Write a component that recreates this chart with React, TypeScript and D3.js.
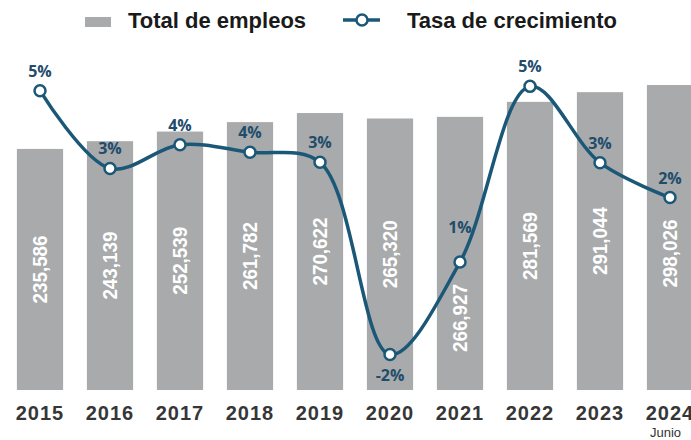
import React from "react";
import * as d3 from "d3";

// data
const years = ["2015", "2016", "2017", "2018", "2019", "2020", "2021", "2022", "2023", "2024"];
const totalEmpleos = [235586, 243139, 252539, 261782, 270622, 265320, 266927, 281569, 291044, 298026];
const tasaCrecimiento = [5.37, 3.21, 3.87, 3.66, 3.38, -1.96, 0.61, 5.49, 3.37, 2.4];
const legendLabels = ["Total de empleos", "Tasa de crecimiento"];
const lastYearNote = "Junio";

const W = 691;
const H = 440;
const barColor = "#a8aaab";
const lineColor = "#1b5877";
const pctColor = "#1f4d6b";

export default function App() {
    const x = d3.scaleBand<string>().domain(years).range([5, 705]).paddingInner(0.34).paddingOuter(0.17);
    const yBar = d3.scaleLinear().domain([0, 300000]).range([390, 83]);
    const yRate = d3.scaleLinear().domain([-2, 6]).range([356, 68]);
    const cx = (i: number) => (x(years[i]) as number) + x.bandwidth() / 2;

    const line = d3
        .line<number>()
        .x((_, i) => cx(i))
        .y((d) => yRate(d))
        .curve(d3.curveCatmullRom.alpha(0.5));

    const fmt = d3.format(",");
    const labelHalf = 34;

    return (
        <svg width={W} height={H} style={{ position: "absolute", left: 0, top: 0, background: "#fff" }}>
            {/* Legend */}
            <rect x={85} y={17} width={26} height={10} fill={barColor} />
            <text x={128} y={28} fontFamily="Liberation Sans, Arial, sans-serif" fontWeight="bold" fontSize={22} fill="#1a1a1a">
                {legendLabels[0]}
            </text>
            <line x1={343} x2={380} y1={20} y2={20} stroke={lineColor} strokeWidth={3.5} />
            <circle cx={362} cy={20} r={5.5} fill="#fff" stroke={lineColor} strokeWidth={2.5} />
            <text x={407} y={28} fontFamily="Liberation Sans, Arial, sans-serif" fontWeight="bold" fontSize={22} fill="#1a1a1a">
                {legendLabels[1]}
            </text>

            {/* Bars */}
            {totalEmpleos.map((v, i) => (
                <rect key={years[i]} x={x(years[i])} y={yBar(v)} width={x.bandwidth()} height={yBar(0) - yBar(v)} fill={barColor} />
            ))}

            {/* Bar value labels, moved below the point when the line crosses them */}
            {totalEmpleos.map((v, i) => {
                const mid = (yBar(v) + yBar(0)) / 2;
                const py = yRate(tasaCrecimiento[i]);
                const cy = Math.abs(py - mid) < labelHalf + 6 ? py + 22 + labelHalf : mid;
                return (
                    <text
                        key={years[i]}
                        transform={`translate(${cx(i)},${cy}) rotate(-90)`}
                        textAnchor="middle"
                        dominantBaseline="central"
                        fontFamily="Liberation Sans, Arial, sans-serif"
                        fontWeight="bold"
                        fontSize={20}
                        textLength={68}
                        lengthAdjust="spacingAndGlyphs"
                        fill="#fff"
                    >
                        {fmt(v)}
                    </text>
                );
            })}

            {/* Growth line */}
            <path d={line(tasaCrecimiento) || ""} fill="none" stroke={lineColor} strokeWidth={3.5} />
            {tasaCrecimiento.map((r, i) => (
                <circle key={years[i]} cx={cx(i)} cy={yRate(r)} r={5.5} fill="#fff" stroke={lineColor} strokeWidth={2.5} />
            ))}

            {/* Percent labels */}
            {tasaCrecimiento.map((r, i) => {
                const py = yRate(r);
                const prev = yRate(tasaCrecimiento[Math.max(0, i - 1)]);
                const next = yRate(tasaCrecimiento[Math.min(years.length - 1, i + 1)]);
                let ty = py - 14;
                if (r < 0) ty = py + 26;
                else if (prev - next > 150) ty = py - 29;
                return (
                    <text
                        key={years[i]}
                        x={cx(i)}
                        y={ty}
                        textAnchor="middle"
                        fontFamily="Open Sans, sans-serif"
                        fontWeight="bold"
                        fontSize={16}
                        fill={pctColor}
                    >
                        {Math.round(r) + "%"}
                    </text>
                );
            })}

            {/* Year axis */}
            {years.map((yr, i) => (
                <text
                    key={yr}
                    x={cx(i)}
                    y={420}
                    textAnchor="middle"
                    fontFamily="Liberation Sans, Arial, sans-serif"
                    fontWeight="bold"
                    fontSize={20}
                    letterSpacing={1}
                    fill="#363636"
                >
                    {yr}
                </text>
            ))}
            <text
                x={cx(years.length - 1) - 20}
                y={437}
                fontFamily="Liberation Sans, Arial, sans-serif"
                fontSize={13}
                fill="#333"
            >
                {lastYearNote}
            </text>
        </svg>
    );
}
